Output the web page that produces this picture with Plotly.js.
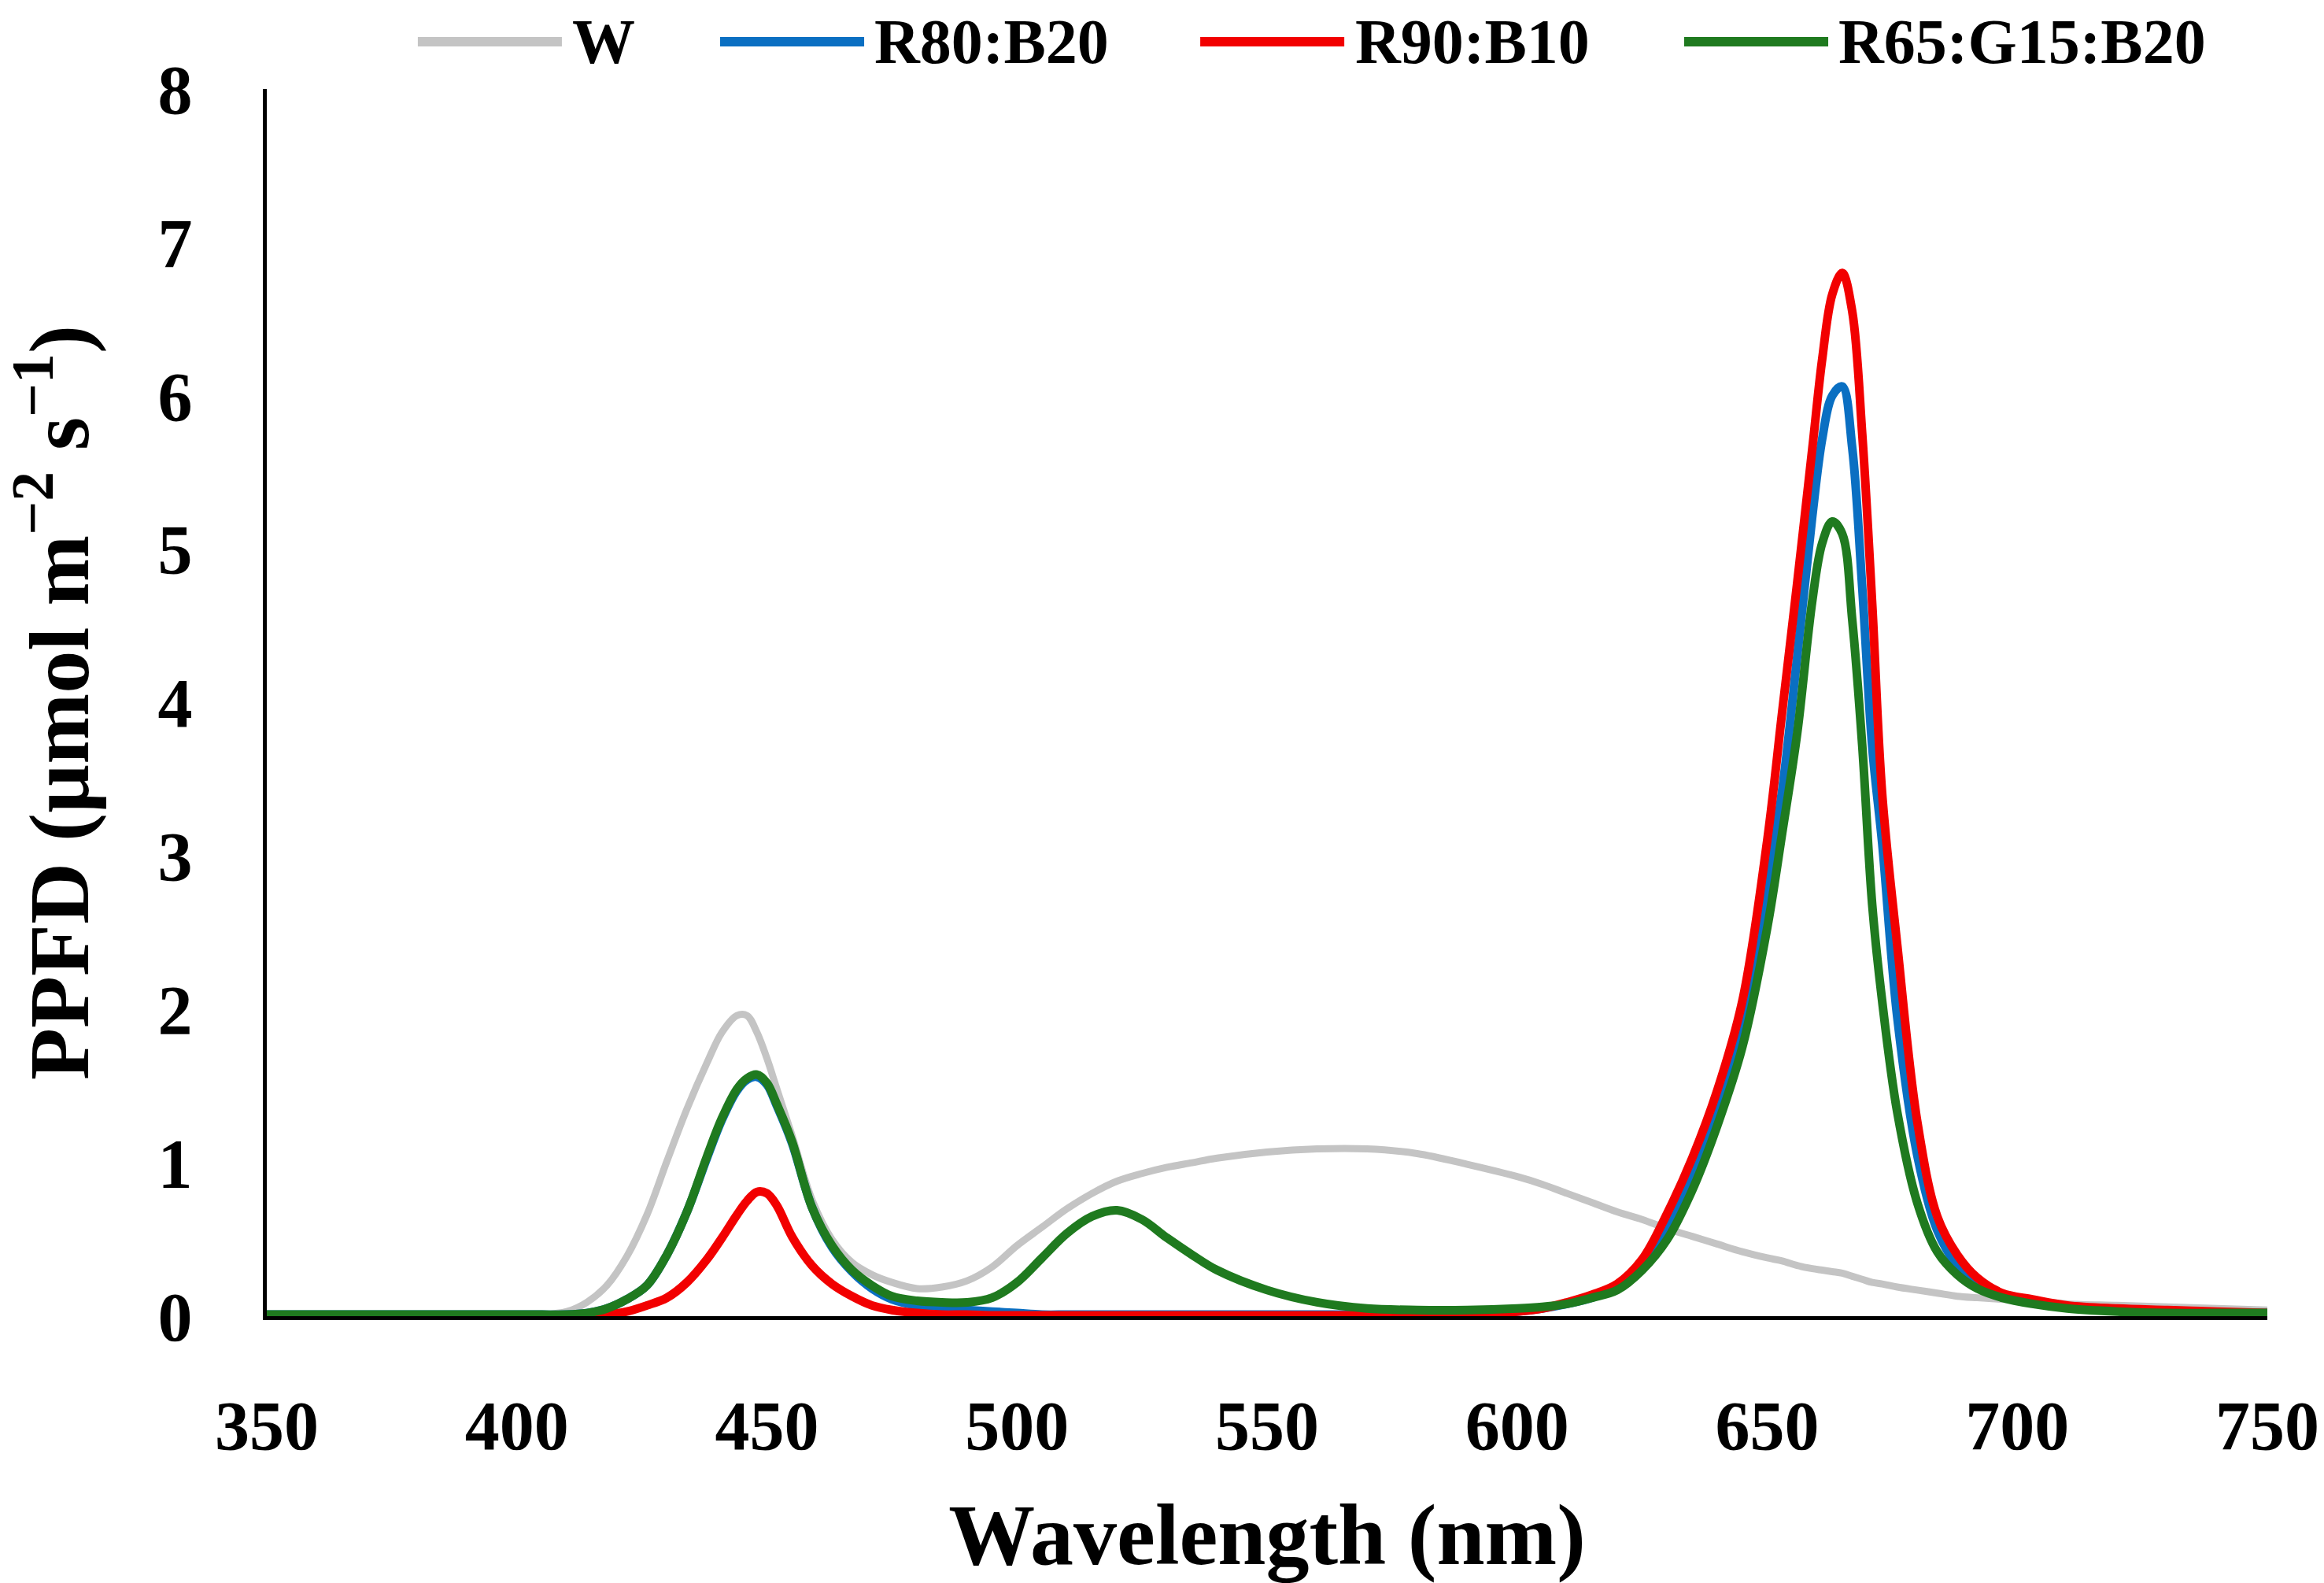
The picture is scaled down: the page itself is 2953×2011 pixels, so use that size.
<!DOCTYPE html>
<html>
<head>
<meta charset="utf-8">
<script src="https://cdn.plot.ly/plotly-3.0.1.min.js"></script>
<style>
  html, body { margin: 0; padding: 0; background: #fff; }
  #chart { width: 2953px; height: 2011px; }
</style>
</head>
<body>
<div id="chart"></div>
<script>
// wavelength grid (nm), shared by all four spectra
const wavelength = [
  350, 360, 370, 380, 390, 400,
  405, 410, 414, 418, 422, 426, 430, 434, 438,
  441, 444, 446, 448, 450, 452, 455, 459, 463, 467, 471, 475,
  480, 485, 490, 495, 500, 505, 510, 515, 520, 525, 530, 535, 540,
  550, 560, 570, 580, 590, 600,
  605, 610, 615, 620, 625, 630, 635, 640, 645, 650,
  653, 656, 659, 661, 663, 665, 667, 669, 671, 673,
  676, 680, 684, 688, 692, 697, 703, 710,
  720, 730, 740, 750
];

const seriesNames = ['W', 'R80:B20', 'R90:B10', 'R65:G15:B20'];
const seriesColors = ['#c4c4c4', '#0a6fc2', '#f20000', '#1f7a1f'];

// PPFD (µmol m-2 s-1)
const ppfdW = [
  0, 0, 0, 0, 0, 0.01,
  0.01, 0.03, 0.09, 0.20, 0.39, 0.66, 1.01, 1.35, 1.65,
  1.85, 1.96, 1.96, 1.85, 1.68, 1.48, 1.18, 0.76, 0.50, 0.35, 0.27, 0.22,
  0.18, 0.19, 0.23, 0.32, 0.46, 0.58, 0.70, 0.80, 0.88, 0.93, 0.97, 1.00, 1.03,
  1.07, 1.09, 1.09, 1.06, 0.99, 0.91,
  0.86, 0.80, 0.74, 0.68, 0.63, 0.57, 0.52, 0.47, 0.42, 0.38,
  0.36, 0.33, 0.31, 0.30, 0.29, 0.28, 0.26, 0.24, 0.22, 0.21,
  0.19, 0.17, 0.15, 0.13, 0.12, 0.11, 0.10, 0.08,
  0.07, 0.06, 0.05, 0.04
];

const ppfdR80B20 = [
  0.01, 0.01, 0.01, 0.01, 0.01, 0.01,
  0.01, 0.01, 0.02, 0.05, 0.11, 0.20, 0.40, 0.68, 1.03,
  1.28, 1.47, 1.54, 1.56, 1.51, 1.37, 1.13, 0.71, 0.45, 0.29, 0.18, 0.11,
  0.07, 0.05, 0.04, 0.03, 0.02, 0.01, 0.01, 0.01, 0.01, 0.01, 0.01, 0.01, 0.01,
  0.01, 0.01, 0.01, 0.01, 0.01, 0.03,
  0.05, 0.08, 0.12, 0.19, 0.33, 0.60, 0.93, 1.35, 1.90, 2.80,
  3.43, 4.30, 5.21, 5.72, 6.00, 6.06, 5.66, 4.75, 3.71, 3.08,
  1.95, 1.05, 0.56, 0.33, 0.21, 0.13, 0.09, 0.06,
  0.04, 0.03, 0.02, 0.02
];

const ppfdR90B10 = [
  0, 0, 0, 0, 0, 0,
  0, 0, 0, 0.01, 0.03, 0.07, 0.12, 0.22, 0.37,
  0.51, 0.66, 0.75, 0.81, 0.80, 0.72, 0.52, 0.33, 0.21, 0.13, 0.07, 0.04,
  0.02, 0.01, 0.01, 0.005, 0.005, 0.005, 0.005, 0.005, 0.005, 0.005, 0.005, 0.005, 0.005,
  0.005, 0.005, 0.005, 0.01, 0.01, 0.03,
  0.05, 0.09, 0.14, 0.21, 0.37, 0.67, 1.03, 1.47, 2.05, 3.10,
  3.94, 4.78, 5.65, 6.24, 6.66, 6.80, 6.55, 5.75, 4.64, 3.40,
  2.42, 1.27, 0.65, 0.40, 0.25, 0.15, 0.11, 0.07,
  0.05, 0.04, 0.03, 0.02
];

const ppfdR65G15B20 = [
  0.01, 0.01, 0.01, 0.01, 0.01, 0.01,
  0.01, 0.01, 0.02, 0.05, 0.11, 0.20, 0.40, 0.68, 1.04,
  1.29, 1.48, 1.55, 1.575, 1.52, 1.38, 1.14, 0.71, 0.46, 0.30, 0.20, 0.13,
  0.10, 0.09, 0.09, 0.12, 0.22, 0.38, 0.54, 0.65, 0.69, 0.63, 0.51, 0.40, 0.30,
  0.17, 0.09, 0.05, 0.04, 0.04, 0.05,
  0.06, 0.08, 0.12, 0.17, 0.30, 0.50, 0.82, 1.24, 1.75, 2.53,
  3.15, 3.80, 4.66, 5.04, 5.18, 5.10, 4.54, 3.72, 2.68, 2.05,
  1.33, 0.74, 0.42, 0.27, 0.18, 0.12, 0.08, 0.05,
  0.03, 0.02, 0.02, 0.02
];

const xTicks = [350, 400, 450, 500, 550, 600, 650, 700, 750];
const yTicks = [0, 1, 2, 3, 4, 5, 6, 7, 8];

const allSeries = [ppfdW, ppfdR80B20, ppfdR90B10, ppfdR65G15B20];

const serif = 'Liberation Serif, Times New Roman, serif';

const traces = allSeries.map((vals, i) => ({
    x: wavelength,
    y: vals,
    name: seriesNames[i],
    type: 'scatter',
    mode: 'lines',
    line: { color: seriesColors[i], width: i === 0 ? 9 : 11, shape: 'spline', smoothing: 1 },
    showlegend: false
}));

// legend drawn by hand on top of the plot (long line samples, as in the figure)
const legendX = [0.0755, 0.2266, 0.4666, 0.7085];
const legendY = 1.0385;
const legendShapes = seriesNames.map((n, i) => ({
    type: 'line', xref: 'paper', yref: 'paper',
    x0: legendX[i], x1: legendX[i] + 0.072, y0: legendY, y1: legendY,
    line: { color: seriesColors[i], width: 12 }
}));
const legendLabels = seriesNames.map((n, i) => ({
    xref: 'paper', yref: 'paper',
    x: legendX[i] + 0.0765, y: legendY,
    xanchor: 'left', yanchor: 'middle',
    text: n, showarrow: false,
    font: { family: serif, size: 80, color: '#000', weight: 'bold' }
}));

const layout = {
    width: 2953,
    height: 2011,
    margin: { l: 339, r: 72, t: 113, b: 339 },
    paper_bgcolor: '#fff',
    plot_bgcolor: '#fff',
    showlegend: false,
    font: { family: serif, color: '#000', weight: 'bold' },
    xaxis: {
        range: [350, 750],
        tickvals: xTicks,
        ticks: '',
        showgrid: false,
        zeroline: false,
        showline: true,
        linecolor: '#000',
        linewidth: 5,
        layer: 'below traces',
        ticklabelstandoff: 58,
        tickfont: { family: serif, size: 88, color: '#000', weight: 'bold' },
        title: {
            text: 'Wavelength (nm)',
            standoff: 66,
            font: { family: serif, size: 110, color: '#000', weight: 'bold' }
        }
    },
    yaxis: {
        range: [0, 8],
        tickvals: yTicks,
        ticks: '',
        showgrid: false,
        zeroline: false,
        showline: true,
        linecolor: '#000',
        linewidth: 5,
        layer: 'below traces',
        ticklabelstandoff: 72,
        tickfont: { family: serif, size: 88, color: '#000', weight: 'bold' },
        title: {
            text: 'PPFD (µmol m<sup>−2</sup> s<sup>−1</sup>)',
            standoff: 88,
            font: { family: serif, size: 108, color: '#000', weight: 'bold' }
        }
    },
    shapes: legendShapes,
    annotations: legendLabels
};

Plotly.newPlot('chart', traces, layout, { displayModeBar: false, staticPlot: true });
</script>
</body>
</html>
